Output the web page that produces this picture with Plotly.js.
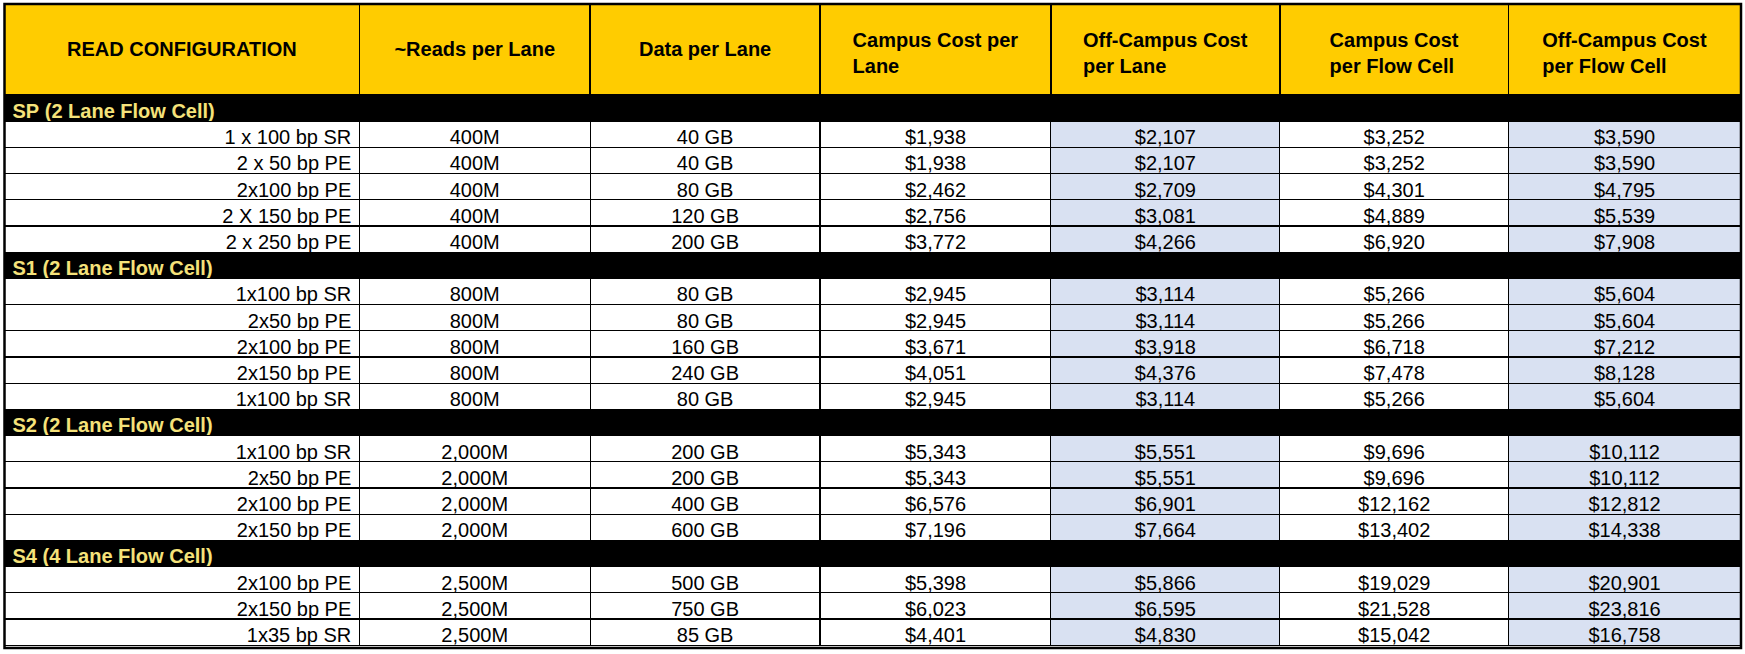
<!DOCTYPE html>
<html>
<head>
<meta charset="utf-8">
<script src="https://cdn.plot.ly/plotly-3.0.1.min.js"></script>
<style>
  html, body { margin: 0; padding: 0; background: #fff; }
  #chart { width: 1745px; height: 654px; }
</style>
</head>
<body>
<div id="chart"></div>
<script>
const columns = [
  'READ CONFIGURATION',
  '~Reads per Lane',
  'Data per Lane',
  'Campus Cost per<br>Lane',
  'Off-Campus Cost<br>per Lane',
  'Campus Cost<br>per Flow Cell',
  'Off-Campus Cost<br>per Flow Cell'
];

const sections = ['SP (2 Lane Flow Cell)', 'S1 (2 Lane Flow Cell)', 'S2 (2 Lane Flow Cell)', 'S4 (4 Lane Flow Cell)'];
const sectionSizes = [5, 5, 4, 3];

const readConfig = [
  '1 x 100 bp SR', '2 x 50 bp PE', '2x100 bp PE', '2 X 150 bp PE', '2 x 250 bp PE',
  '1x100 bp SR', '2x50 bp PE', '2x100 bp PE', '2x150 bp PE', '1x100 bp SR',
  '1x100 bp SR', '2x50 bp PE', '2x100 bp PE', '2x150 bp PE',
  '2x100 bp PE', '2x150 bp PE', '1x35 bp SR'
];
const readsPerLane = [
  '400M', '400M', '400M', '400M', '400M',
  '800M', '800M', '800M', '800M', '800M',
  '2,000M', '2,000M', '2,000M', '2,000M',
  '2,500M', '2,500M', '2,500M'
];
const dataPerLane = [
  '40 GB', '40 GB', '80 GB', '120 GB', '200 GB',
  '80 GB', '80 GB', '160 GB', '240 GB', '80 GB',
  '200 GB', '200 GB', '400 GB', '600 GB',
  '500 GB', '750 GB', '85 GB'
];
const campusLane = [
  '$1,938', '$1,938', '$2,462', '$2,756', '$3,772',
  '$2,945', '$2,945', '$3,671', '$4,051', '$2,945',
  '$5,343', '$5,343', '$6,576', '$7,196',
  '$5,398', '$6,023', '$4,401'
];
const offCampusLane = [
  '$2,107', '$2,107', '$2,709', '$3,081', '$4,266',
  '$3,114', '$3,114', '$3,918', '$4,376', '$3,114',
  '$5,551', '$5,551', '$6,901', '$7,664',
  '$5,866', '$6,595', '$4,830'
];
const campusFlowCell = [
  '$3,252', '$3,252', '$4,301', '$4,889', '$6,920',
  '$5,266', '$5,266', '$6,718', '$7,478', '$5,266',
  '$9,696', '$9,696', '$12,162', '$13,402',
  '$19,029', '$21,528', '$15,042'
];
const offCampusFlowCell = [
  '$3,590', '$3,590', '$4,795', '$5,539', '$7,908',
  '$5,604', '$5,604', '$7,212', '$8,128', '$5,604',
  '$10,112', '$10,112', '$12,812', '$14,338',
  '$20,901', '$23,816', '$16,758'
];

const GOLD = '#FFCC00';
const BLUE = '#D9E1F2';
const SECTION_TEXT = '#F5E27A';
const offCampusCols = [4, 6];
const FONT = '"Liberation Sans", Arial, sans-serif';
const NBSP = '\u00a0';

// non-breaking spaces keep plotly from wrapping / growing the rows
const nb = (s) => String(s).replace(/ /g, NBSP);

const dataCols = [readConfig, readsPerLane, dataPerLane, campusLane, offCampusLane, campusFlowCell, offCampusFlowCell];
const nCols = dataCols.length;
const cellValues = dataCols.map(() => []);
const fillColors = dataCols.map(() => []);
const fontColors = dataCols.map(() => []);
const fontWeights = dataCols.map(() => []);
const aligns = dataCols.map(() => []);

let r = 0;
sections.forEach((sec, si) => {
  for (let c = 0; c < nCols; c++) {
    cellValues[c].push(c === 0 ? nb(sec) : '');
    fillColors[c].push('#000000');
    fontColors[c].push(SECTION_TEXT);
    fontWeights[c].push('bold');
    aligns[c].push(c === 0 ? 'left' : 'center');
  }
  for (let k = 0; k < sectionSizes[si]; k++, r++) {
    for (let c = 0; c < nCols; c++) {
      cellValues[c].push(nb(dataCols[c][r]));
      fillColors[c].push(offCampusCols.includes(c) ? BLUE : '#ffffff');
      fontColors[c].push('#000000');
      fontWeights[c].push('normal');
      aligns[c].push(c === 0 ? 'right' : 'center');
    }
  }
});

// header: plotly top-aligns cell text, so pad with invisible lines to centre it.
// two-line headers use a small base size so the padding lines are half-height.
const big = (s) => '<span style="font-size:20px">' + nb(s) + '</span>';
const headerSizes = columns.map((t) => (t.includes('<br>') ? 10 : 20));
const headerText = columns.map((t) => {
  const parts = t.split('<br>');
  if (parts.length === 1) return NBSP + '<br>' + nb(t);
  return [NBSP, NBSP, big(parts[0]), NBSP, big(parts[1])].join('<br>');
});

const W = 1745, H = 654;
const boxL = 4.5, boxR = 1741, boxT = 4, boxB = 648;
const dom = { x: [boxL / W, boxR / W], y: [1 - boxB / H, 1 - boxT / H] };

Plotly.newPlot('chart', [{
  type: 'table',
  domain: dom,
  columnwidth: [355, 231, 230, 231, 229, 229, 232],
  header: {
    values: headerText,
    align: 'center',
    height: 91,
    fill: { color: GOLD },
    line: { color: '#000000', width: 1.5 },
    font: { family: FONT, size: headerSizes, color: '#000000', weight: 'bold' }
  },
  cells: {
    values: cellValues,
    align: aligns,
    height: 26.2,
    fill: { color: fillColors },
    line: { color: '#000000', width: 1.2 },
    font: { family: FONT, size: 20, color: fontColors, weight: fontWeights }
  }
}], {
  width: W,
  height: H,
  margin: { l: 0, r: 0, t: 0, b: 0 },
  paper_bgcolor: '#ffffff',
  shapes: [{
    type: 'rect', xref: 'paper', yref: 'paper',
    x0: dom.x[0], x1: dom.x[1], y0: dom.y[0], y1: dom.y[1],
    line: { color: '#000000', width: 2.5 }
  }]
}, { displayModeBar: false, staticPlot: true });
</script>
</body>
</html>
